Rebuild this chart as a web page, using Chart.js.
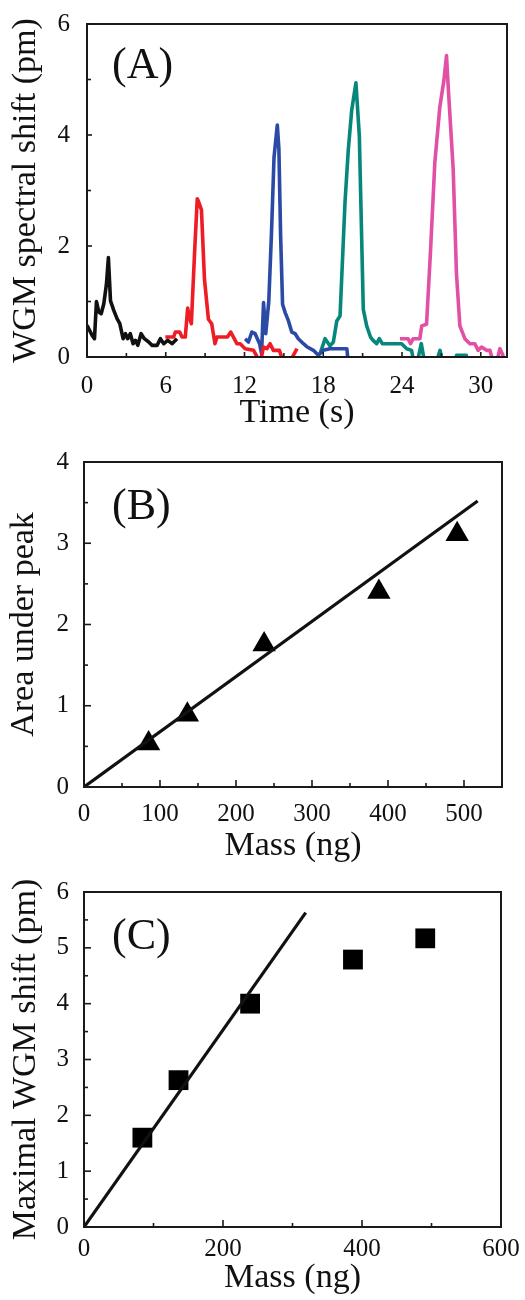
<!DOCTYPE html>
<html>
<head>
<meta charset="utf-8">
<script src="https://cdn.jsdelivr.net/npm/chart.js@4.4.1/dist/chart.umd.min.js"></script>
<style>
  html, body { margin: 0; padding: 0; background: #fff; }
  #wrap { position: relative; width: 525px; height: 1300px; }
  canvas { position: absolute; left: 0; }
</style>
</head>
<body>
<div id="wrap">
  <canvas id="chartA" width="525" height="440" style="top:0"></canvas>
  <canvas id="chartB" width="525" height="430" style="top:440px"></canvas>
  <canvas id="chartC" width="525" height="430" style="top:870px"></canvas>
</div>
<script>
// ================= Data =================
// (A) WGM spectral shift traces, time in s, shift in pm
const blackTime  = [0, 0.39, 0.57, 0.72, 0.9, 1.08, 1.28, 1.48, 1.63, 1.79, 2.04, 2.29, 2.5, 2.75, 2.93, 3.1, 3.3, 3.51, 3.69, 3.87, 4.12, 4.37, 4.7, 4.96, 5.34, 5.59, 5.85, 6.15, 6.48, 6.86];
const blackShift = [0.57, 0.39, 0.33, 1.0, 0.81, 0.78, 0.96, 1.31, 1.79, 1.01, 0.84, 0.69, 0.6, 0.33, 0.42, 0.33, 0.42, 0.24, 0.3, 0.21, 0.42, 0.33, 0.27, 0.21, 0.21, 0.33, 0.24, 0.3, 0.24, 0.33];

const redTime  = [5.97, 6.6, 6.73, 7.06, 7.24, 7.49, 7.67, 7.8, 7.95, 8.2, 8.4, 8.5, 8.72, 8.95, 9.25, 9.5, 9.75, 9.9, 10.7, 10.95, 11.42, 11.67, 12.05, 12.69, 13.2, 13.45, 13.7, 13.95, 14.2, 14.66, 14.97, 15.4, 15.65, 16.0];
const redShift = [0.36, 0.36, 0.45, 0.45, 0.36, 0.36, 0.88, 0.72, 0.6, 1.9, 2.85, 2.8, 2.65, 1.4, 0.68, 0.6, 0.24, 0.36, 0.36, 0.45, 0.24, 0.24, 0.15, 0.12, -0.1, 0.18, 0.15, 0.24, 0.12, 0.12, -0.1, -0.2, 0.0, 0.15];

const blueTime  = [12.05, 12.3, 12.56, 12.81, 13.15, 13.3, 13.45, 13.62, 13.85, 14.05, 14.25, 14.5, 14.62, 14.75, 14.9, 15.1, 15.35, 15.6, 15.86, 16.1, 16.49, 16.79, 17.25, 17.63, 18.0, 18.5, 19.8, 19.9];
const blueShift = [0.33, 0.27, 0.45, 0.42, 0.24, 0.06, 0.98, 0.42, 1.0, 2.2, 3.6, 4.18, 3.75, 2.2, 0.95, 0.8, 0.65, 0.45, 0.42, 0.33, 0.24, 0.18, 0.12, 0.03, 0.12, 0.15, 0.15, -0.1];

const tealTime  = [17.76, 18.14, 18.52, 18.77, 19.03, 19.28, 19.66, 19.91, 20.17, 20.49, 20.75, 21.05, 21.31, 21.6, 21.8, 22.07, 22.27, 22.5, 23.97, 24.36, 24.73, 24.9, 25.2, 25.47, 25.72, 26.6, 26.9, 27.1, 28.1, 28.15, 28.9, 29.0];
const tealShift = [0.06, 0.33, 0.2, 0.27, 0.65, 0.74, 2.8, 3.74, 4.45, 4.94, 3.98, 0.86, 0.56, 0.36, 0.3, 0.24, 0.33, 0.24, 0.24, 0.15, 0.12, -0.1, -0.05, 0.24, -0.1, -0.1, 0.12, -0.1, -0.1, 0.03, 0.03, -0.1];

const pinkTime  = [23.84, 24.47, 24.65, 24.85, 25.36, 25.5, 25.87, 26.17, 26.5, 26.88, 27.19, 27.39, 27.52, 27.9, 28.15, 28.41, 28.79, 29.17, 29.55, 29.8, 30.06, 30.44, 30.7, 30.95, 31.2, 31.46, 31.66, 31.8, 32.2];
const pinkShift = [0.33, 0.33, 0.24, 0.33, 0.33, 0.56, 0.59, 1.9, 3.5, 4.5, 4.98, 5.43, 4.87, 3.38, 1.5, 0.56, 0.33, 0.24, 0.24, 0.12, 0.18, 0.12, 0.12, -0.1, -0.1, 0.15, 0.05, -0.1, -0.1];

const timeTicks  = [0, 6, 12, 18, 24, 30];
const shiftTicks = [0, 2, 4, 6];

// (B) area under peak vs mass
const massB = [85, 136, 237, 388, 491];
const areaB = [0.535, 0.89, 1.755, 2.40, 3.11];
const fitMassB = [0, 518];
const fitAreaB = [0, 3.52];
const massTicksB = [0, 100, 200, 300, 400, 500];
const areaTicks = [0, 1, 2, 3, 4];

// (C) maximal WGM shift vs mass
const massC = [84, 136, 239, 387, 491];
const maxShiftC = [1.6, 2.63, 4.0, 4.79, 5.17];
const fitMassC = [0, 319];
const fitShiftC = [0, 5.63];
const massTicksC = [0, 200, 400, 600];
const maxShiftTicks = [0, 1, 2, 3, 4, 5, 6];

// ================= Helpers =================
Chart.defaults.font.family = "'Liberation Serif', 'Times New Roman', serif";
Chart.defaults.color = "#111";

const pts = (xs, ys) => xs.map((x, i) => ({ x: x, y: ys[i] }));

function axis(o) {
    return {
        type: "linear",
        min: o.min,
        max: o.max,
        grid: { display: false },
        border: { display: false },
        ticks: { padding: o.pad, font: { size: 25 }, color: "#111" },
        title: { display: true, text: o.title, font: { size: 34 }, color: "#111", padding: o.titlePad },
        afterBuildTicks: s => { s.ticks = o.ticks.map(v => ({ value: v })); },
        afterFit: s => {
            if (s.isHorizontal()) s.height = o.size;
            else s.width = o.size;
        }
    };
}

// box frame, inward major/minor ticks, panel letter
const framePlugin = {
    id: "framePlugin",
    afterDraw(chart, args, opts) {
        const { ctx, chartArea: a } = chart;
        ctx.save();
        ctx.strokeStyle = "#1a1a1a";
        ctx.lineWidth = 2;
        ctx.strokeRect(a.left, a.top, a.right - a.left, a.bottom - a.top);

        ctx.lineWidth = 1.6;
        ["x", "y"].forEach(id => {
            const s = chart.scales[id];
            const vals = s.ticks.map(t => t.value);
            const step = vals[1] - vals[0];
            const minors = [];
            for (let v = vals[0] + step / 2; v <= s.max; v += step) minors.push(v);
            const draw = (v, len) => {
                const p = s.getPixelForValue(v);
                ctx.beginPath();
                if (id === "x") { ctx.moveTo(p, a.bottom); ctx.lineTo(p, a.bottom - len); }
                else { ctx.moveTo(a.left, p); ctx.lineTo(a.left + len, p); }
                ctx.stroke();
            };
            vals.forEach(v => draw(v, opts.major));
            minors.forEach(v => draw(v, opts.minor));
        });

        ctx.fillStyle = "#111";
        ctx.font = "44px 'Liberation Serif', serif";
        ctx.textBaseline = "middle";
        ctx.fillText(opts.label, opts.lx, opts.ly);
        ctx.restore();
    }
};

const trace = (xs, ys, color) => ({
    data: pts(xs, ys),
    borderColor: color,
    borderWidth: 3.6,
    borderJoinStyle: "round",
    pointRadius: 0,
    tension: 0,
    clip: 0
});

// ================= Panel A =================
new Chart(document.getElementById("chartA"), {
    type: "line",
    data: {
        datasets: [
            trace(blackTime, blackShift, "#111111"),
            trace(redTime, redShift, "#ee1c25"),
            trace(blueTime, blueShift, "#2b4aa6"),
            trace(tealTime, tealShift, "#07877c"),
            trace(pinkTime, pinkShift, "#e150a5")
        ]
    },
    options: {
        responsive: false,
        animation: false,
        layout: { padding: { top: 20, right: 18, left: 0, bottom: 0 } },
        plugins: {
            legend: { display: false },
            tooltip: { enabled: false },
            framePlugin: { label: "(A)", lx: 112, ly: 66, major: 5, minor: 4 }
        },
        scales: {
            x: axis({ min: 0, max: 32, ticks: timeTicks, pad: 6, size: 83, title: "Time (s)", titlePad: { top: 0, bottom: 6.6 } }),
            y: axis({ min: 0, max: 6, ticks: shiftTicks, pad: 9, size: 87, title: "WGM spectral shift (pm)", titlePad: { top: 5.6, bottom: 0 } })
        }
    },
    plugins: [framePlugin]
});

// ================= Panel B =================
new Chart(document.getElementById("chartB"), {
    type: "scatter",
    data: {
        datasets: [
            { type: "line", data: pts(fitMassB, fitAreaB), borderColor: "#111", borderWidth: 3.2, pointRadius: 0 },
            { data: pts(massB, areaB), pointStyle: "triangle", pointRadius: 13.5, backgroundColor: "#000", borderWidth: 0 }
        ]
    },
    options: {
        responsive: false,
        animation: false,
        layout: { padding: { top: 8, right: 23, left: 0, bottom: 0 } },
        plugins: {
            legend: { display: false },
            tooltip: { enabled: false },
            framePlugin: { label: "(B)", lx: 112, ly: 67, major: 7, minor: 4 }
        },
        scales: {
            x: axis({ min: 0, max: 550, ticks: massTicksB, pad: 4.6, size: 83, title: "Mass (ng)", titlePad: { top: 0, bottom: 3.6 } }),
            y: axis({ min: 0, max: 4, ticks: areaTicks, pad: 7, size: 84, title: "Area under peak", titlePad: { top: 3.6, bottom: 0 } })
        }
    },
    plugins: [framePlugin]
});

// ================= Panel C =================
new Chart(document.getElementById("chartC"), {
    type: "scatter",
    data: {
        datasets: [
            { type: "line", data: pts(fitMassC, fitShiftC), borderColor: "#111", borderWidth: 3.2, pointRadius: 0 },
            { data: pts(massC, maxShiftC), pointStyle: "rect", pointRadius: 14, backgroundColor: "#000", borderWidth: 0 }
        ]
    },
    options: {
        responsive: false,
        animation: false,
        layout: { padding: { top: 18, right: 24, left: 0, bottom: 0 } },
        plugins: {
            legend: { display: false },
            tooltip: { enabled: false },
            framePlugin: { label: "(C)", lx: 112, ly: 67, major: 7, minor: 4 }
        },
        scales: {
            x: axis({ min: 0, max: 600, ticks: massTicksC, pad: -1, size: 73, title: "Mass (ng)", titlePad: { top: 0, bottom: 1.6 } }),
            y: axis({ min: 0, max: 6, ticks: maxShiftTicks, pad: 7, size: 84, title: "Maximal WGM shift (pm)", titlePad: { top: 5.6, bottom: 0 } })
        }
    },
    plugins: [framePlugin]
});
</script>
</body>
</html>
